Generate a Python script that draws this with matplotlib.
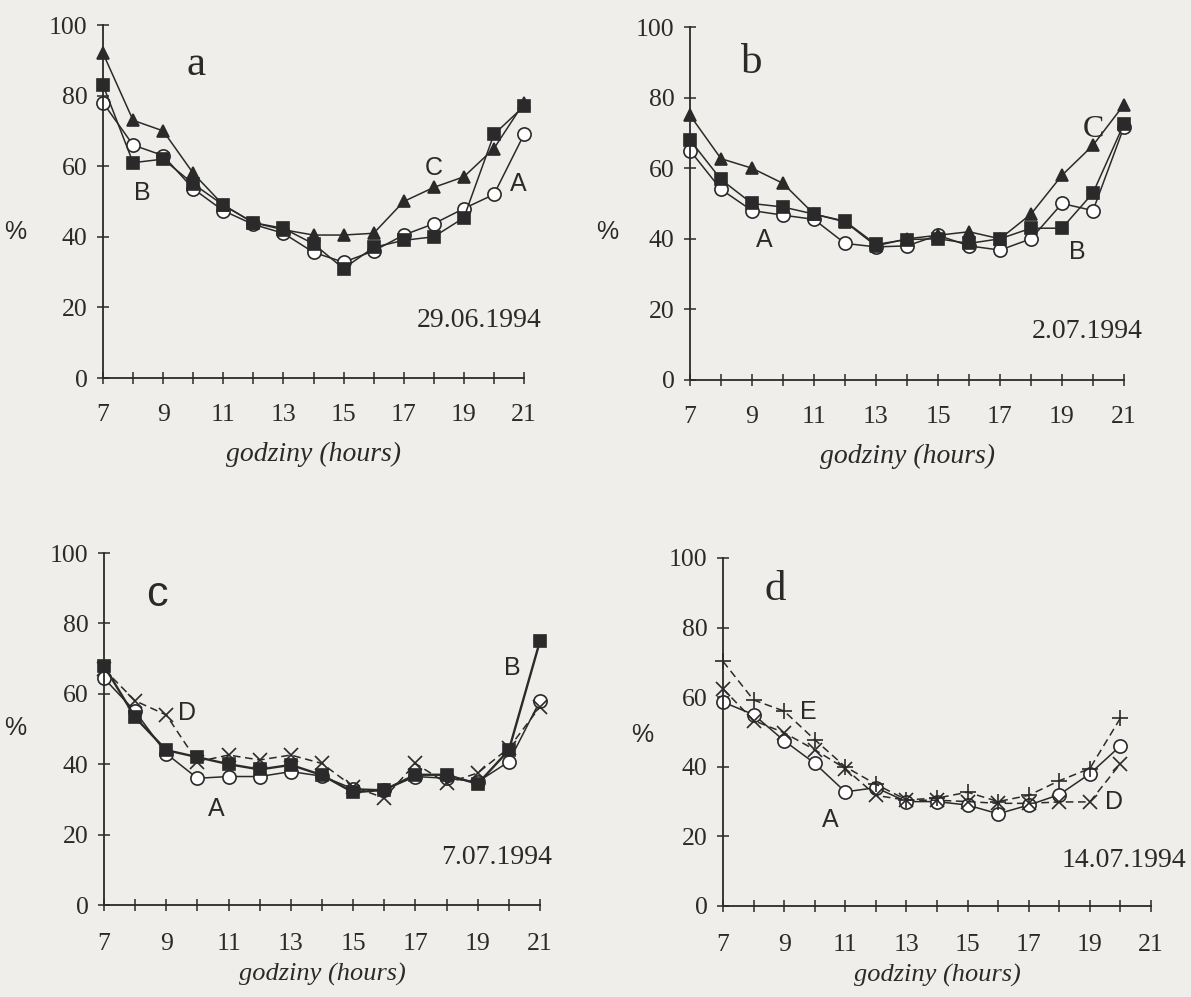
import matplotlib
matplotlib.use("Agg")
import matplotlib.pyplot as plt

# ---------------- data ----------------
hours = list(range(7, 22))
hours_d = list(range(7, 21))

# panel a (29.06.1994)
a_A = [78, 66, 63, 53.6, 47.4, 43.5, 41, 35.6, 32.8, 36, 40.5, 43.7, 48, 52, 69]
a_B = [83, 61, 62, 55, 49, 44, 42.4, 38, 31, 37, 39, 40, 45.4, 69, 77]
a_C = [92, 73, 70, 58, 49, 44, 42, 40.5, 40.5, 41, 50, 54, 57, 65, 78]

# panel b (2.07.1994)
b_A = [65, 54, 48, 46.7, 45.5, 38.7, 37.7, 38, 41, 38, 36.8, 40, 50, 48, 71.7]
b_B = [68, 56.8, 50, 49, 47, 45, 38.4, 39.8, 40, 38.7, 40, 43, 43, 53, 72.6]
b_C = [75, 62.7, 60, 55.7, 47, 44.8, 38, 40, 41, 42, 40, 47, 58, 66.5, 78]

# panel c (7.07.1994)
c_A = [64.4, 55, 43, 36, 36.5, 36.5, 37.9, 36.6, 33, 32.7, 36.5, 36, 35, 40.7, 58]
c_B = [68, 53.3, 44, 42, 40, 38.5, 39.8, 36.9, 32, 32.7, 37, 37, 34.4, 44, 75]
c_D = [67, 58, 54, 40.7, 42.6, 41.2, 42.6, 40.2, 33.6, 30.4, 40.2, 34.6, 37.5, 44.6, 56.3]

# panel d (14.07.1994)
d_A = [58.6, 55, 47.5, 41, 32.8, 34, 30, 30, 29, 26.5, 29, 32, 38, 46]
d_D = [62.4, 53.3, 49.8, 44.9, 39.5, 31.8, 30.4, 30.4, 30, 29.5, 29.5, 29.9, 29.9, 40.9]
d_E = [70.3, 59.2, 56, 47.8, 40, 35, 30.5, 31, 32.7, 30, 31.8, 36, 39.5, 54]

xticks = list(range(7, 22))
xtick_labels = [str(h) if h % 2 == 1 else "" for h in xticks]
yticks = [0, 20, 40, 60, 80, 100]

BG = "#efeeea"
INK = "#2a2a2a"
SERIF = ["Liberation Serif", "DejaVu Serif"]
SANS = ["Liberation Sans", "DejaVu Sans"]

W, H = 1191, 997
fig = plt.figure(figsize=(W / 100, H / 100), dpi=100, facecolor=BG)


def make_axes(x7, x21, y0, y100, xpad=15, lpad=11, lsize=20):
    left = x7 / W
    width = (x21 - x7) / W
    bottom = 1 - y0 / H
    height = (y0 - y100) / H
    ax = fig.add_axes([left, bottom, width, height])
    ax.set_facecolor("none")
    ax.set_xlim(7, 21)
    ax.set_ylim(0, 100)
    for s in ("top", "right"):
        ax.spines[s].set_visible(False)
    for s in ("left", "bottom"):
        ax.spines[s].set_color(INK)
        ax.spines[s].set_linewidth(1.3)
    ax.set_xticks(xticks)
    ax.set_xticklabels(xtick_labels)
    ax.set_yticks(yticks)
    ax.set_yticklabels([str(v) for v in yticks])
    ax.tick_params(axis="both", direction="inout", length=8, width=1.1,
                   colors=INK, labelsize=18.5)
    ax.tick_params(axis="x", pad=xpad)
    ax.tick_params(axis="y", pad=7)
    for lab in ax.get_xticklabels() + ax.get_yticklabels():
        lab.set_fontfamily(SERIF)
    ax.set_xlabel("godziny (hours)", family=SERIF, style="italic",
                  fontsize=lsize, color=INK, labelpad=lpad)
    return ax


def series(ax, x, y, marker, mfc, ms, ls="-", lw=1.1):
    ax.plot(x, y, linestyle=ls, color=INK, linewidth=lw, marker=marker,
            markersize=ms, markerfacecolor=mfc, markeredgecolor=INK,
            markeredgewidth=1.2, clip_on=False)


def lab(ax, x, y, s, size=18, fam=SANS):
    ax.text(x, y, s, family=fam, fontsize=size, color=INK,
            ha="center", va="center", clip_on=False)


# ---------- panel a ----------
ax = make_axes(103, 524, 378, 25)
series(ax, hours, a_A, "o", "white", 9.5)
series(ax, hours, a_C, "^", INK, 8.5)
series(ax, hours, a_B, "s", INK, 8.5)
lab(ax, 10.1, 88.7, "a", size=31, fam=SERIF)
lab(ax, 8.3, 52.4, "B")
lab(ax, 18.0, 59.5, "C")
lab(ax, 20.8, 55.0, "A")
lab(ax, 19.5, 16.4, "29.06.1994", size=20, fam=SERIF)
fig.text(15 / W, 1 - 232 / H, "%", family=SANS, fontsize=18, color=INK,
         ha="center", va="center")

# ---------- panel b ----------
ax = make_axes(690, 1124, 380, 27)
series(ax, hours, b_A, "o", "white", 9.5)
series(ax, hours, b_C, "^", INK, 8.5)
series(ax, hours, b_B, "s", INK, 8.5)
lab(ax, 9.0, 89.8, "b", size=31, fam=SERIF)
lab(ax, 9.4, 39.7, "A")
lab(ax, 19.5, 36.2, "B")
lab(ax, 20.0, 71.0, "C", size=23, fam=SERIF)
lab(ax, 19.8, 13.6, "2.07.1994", size=20, fam=SERIF)
fig.text(607 / W, 1 - 232 / H, "%", family=SANS, fontsize=18, color=INK,
         ha="center", va="center")

# ---------- panel c ----------
ax = make_axes(104, 540, 905, 553, xpad=16, lpad=6, lsize=19)
series(ax, hours, c_A, "o", "white", 9.5)
series(ax, hours, c_B, "s", INK, 8, lw=1.7)
series(ax, hours, c_D, "x", "none", 9.5, ls=(0, (5, 3)))
lab(ax, 8.7, 88.0, "c", size=31)
lab(ax, 9.65, 54.5, "D")
lab(ax, 10.6, 27.3, "A")
lab(ax, 20.1, 67.3, "B")
lab(ax, 19.6, 13.4, "7.07.1994", size=20, fam=SERIF)
fig.text(15 / W, 1 - 728 / H, "%", family=SANS, fontsize=18, color=INK,
         ha="center", va="center")

# ---------- panel d ----------
ax = make_axes(723, 1151, 906, 558, xpad=16, lpad=6, lsize=19)
series(ax, hours_d, d_A, "o", "white", 9.5)
series(ax, hours_d, d_E, "+", "none", 11, ls=(0, (5, 3)))
series(ax, hours_d, d_D, "x", "none", 9.5, ls=(0, (5, 3)))
lab(ax, 8.7, 90.8, "d", size=31, fam=SERIF)
lab(ax, 9.8, 55.7, "E")
lab(ax, 10.5, 24.7, "A")
lab(ax, 19.8, 29.8, "D")
lab(ax, 20.1, 13.2, "14.07.1994", size=20, fam=SERIF)
fig.text(642 / W, 1 - 735 / H, "%", family=SANS, fontsize=18, color=INK,
         ha="center", va="center")

fig.savefig("out.png", dpi=100, facecolor=BG)
